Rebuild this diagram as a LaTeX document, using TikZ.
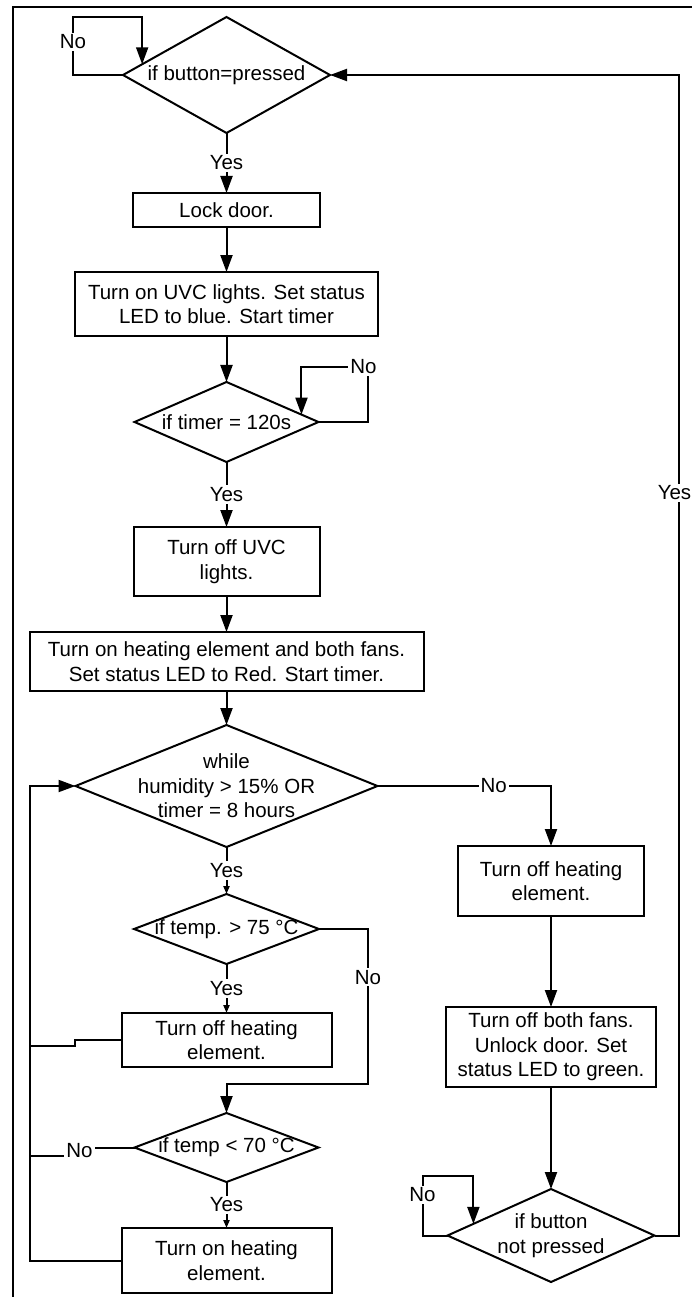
\documentclass[tikz,border=0pt]{standalone}
\usepackage{fontspec}
\setmainfont{Liberation Sans}
\usepackage{tikz}
\usetikzlibrary{shapes.geometric, arrows.meta, positioning, calc}
\definecolor{ink}{HTML}{000000}
\newcommand{\chartfont}{\fontsize{20.5}{24.5}\selectfont}
\tikzset{
  box/.style    = {draw=ink, line width=2pt, rectangle, align=center, inner sep=2pt,
                   outer sep=0pt, font=\chartfont, text=ink},
  dia/.style    = {draw=ink, line width=2pt, diamond, aspect=2, align=center,
                   inner sep=0pt, inner xsep=-40pt, outer sep=0pt, font=\chartfont, text=ink},
  flow/.style   = {-{Triangle[length=17pt, width=12pt]}, draw=ink, line width=2pt},
  flowsm/.style = {-{Triangle[length=8pt, width=6pt]}, draw=ink, line width=2pt},
  wire/.style   = {draw=ink, line width=2pt},
  lbl/.style    = {fill=white, inner sep=2pt, font=\chartfont, text=ink},
}

\begin{document}
\begin{tikzpicture}[x=1pt, y=-1pt]
  \useasboundingbox (0,0) rectangle (692,1297);
  % outer frame, cut at right and bottom
  \draw[wire] (13,1310) -- (13,7) -- (705,7);

  % main column
  \node[dia, minimum width=207pt, minimum height=116pt] (d1) at (226.5,75) {if button=pressed};
  \node[box, minimum width=187pt, minimum height=34pt, below=60pt of d1] (b1) {Lock door.};
  \node[box, minimum width=303pt, minimum height=64pt, below=45pt of b1] (b2) {Turn on UVC lights. Set status\\LED to blue. Start timer};
  \node[dia, minimum width=184pt, minimum height=80pt, below=46pt of b2] (d2) {if timer = 120s};
  \node[box, minimum width=186pt, minimum height=69pt, below=65pt of d2] (b3) {Turn off UVC\\lights.};
  \node[box, minimum width=394pt, minimum height=59pt, below=36pt of b3] (b4) {Turn on heating element and both fans.\\Set status LED to Red. Start timer.};
  \node[dia, minimum width=302pt, minimum height=122pt, below=34pt of b4] (d3) {while\\humidity > 15\% OR\\timer = 8 hours};
  \node[dia, minimum width=185pt, minimum height=70pt, below=47pt of d3] (d5) {if temp. > 75 °C};
  \node[box, minimum width=210pt, minimum height=54pt, below=49pt of d5] (b7) {Turn off heating\\element.};
  \node[dia, minimum width=184pt, minimum height=69pt, below=46pt of b7] (d6) {if temp < 70 °C};
  \node[box, minimum width=210pt, minimum height=65pt, below=46pt of d6] (b8) {Turn on heating\\element.};

  % right column
  \node[box, minimum width=186pt, minimum height=70pt, anchor=north] (b5) at (551,846) {Turn off heating\\element.};
  \node[box, minimum width=210pt, minimum height=80pt, below=91pt of b5] (b6) {Turn off both fans.\\Unlock door. Set\\status LED to green.};
  \node[dia, minimum width=207pt, minimum height=93pt, below=102pt of b6] (d4) {if button\\not pressed};

  % where the loops come back in
  \coordinate (d1in) at ($(d1.west)!0.185!(d1.north)$);
  \coordinate (d2in) at ($(d2.north)!0.815!(d2.east)$);
  \coordinate (d4in) at ($(d4.west)!0.25!(d4.north)$);
  \coordinate (rail) at ($(d3.west)+(-46,0)$);

  \draw[flow] (d1.west) -- ++(-50,0) -- node[lbl, pos=0.57]{No} ++(0,-58) -| (d1in);
  \draw[flow] (d1.south) -- node[lbl]{Yes} (b1.north);
  \draw[flow] (b1) -- (b2);
  \draw[flow] (b2) -- (d2);
  \draw[flow] (d2.east) -- ++(49,0) |- node[lbl, pos=0.5, xshift=-4pt]{No} ($(d2in)+(0,-48)$) -- (d2in);
  \draw[flow] (d2.south) -- node[lbl]{Yes} (b3.north);
  \draw[flow] (b3) -- (b4);
  \draw[flow] (b4) -- (d3);
  \draw[flow] (d3.east) -- node[lbl, pos=0.67]{No} (d3.east -| b5.north) -- (b5.north);
  \draw[flowsm] (d3.south) -- node[lbl]{Yes} (d5.north);
  \draw[flowsm] (d5.south) -- node[lbl]{Yes} (b7.north);
  \draw[flow] (d5.east) -- ++(49,0) -- node[lbl, pos=0.31]{No} ++(0,155) -| (d6.north);
  \draw[flowsm] (d6.south) -- node[lbl]{Yes} (b8.north);
  \draw[wire] (d6.west) -- ++(-55,0) node[lbl, yshift=-3pt]{No} -- ++(0,8) -- ++(-50,0);
  \draw[wire] (b7.west) -- ++(-47,0) -- ++(0,6) -- ++(-45,0);
  \draw[flow] (b8.west) -| (rail) -- (d3.west);

  \draw[flow] (b5) -- (b6);
  \draw[flow] (b6) -- (d4);
  \draw[flow] (d4.west) -- ++(-25,0) -- node[lbl, pos=0.68]{No} ++(0,-60) -| (d4in);
  \draw[flow] (d4.east) -- ++(24,0) |- node[lbl, pos=0.32, xshift=-4pt]{Yes} (d1.east);
\end{tikzpicture}
\end{document}
